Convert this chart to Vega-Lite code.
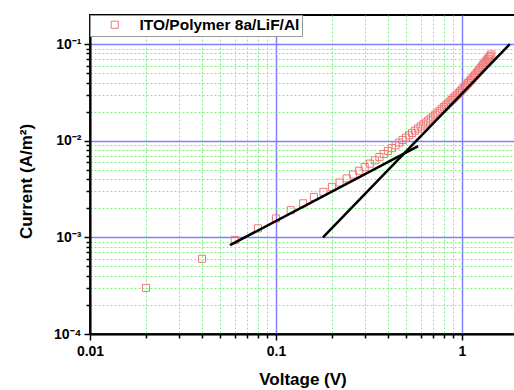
{
  "$schema": "https://vega.github.io/schema/vega-lite/v6.json",
  "width": 425,
  "height": 319,
  "autosize": {"type": "none"},
  "padding": {"left": 90, "top": 15, "right": 0, "bottom": 56},
  "background": "white",
  "config": {
    "font": "Liberation Sans",
    "view": {"stroke": "black", "strokeWidth": 2},
    "axis": {
      "domainColor": "black",
      "domainWidth": 2,
      "tickColor": "black",
      "tickWidth": 1.5,
      "labelFont": "Liberation Sans",
      "labelFontSize": 14,
      "labelFontWeight": "bold",
      "labelColor": "black",
      "labelOverlap": false,
      "labelFlush": false,
      "titleFont": "Liberation Sans",
      "titleFontSize": 17,
      "titleFontWeight": "bold",
      "titleColor": "black",
      "grid": true,
      "gridColor": {"condition": {"test": "abs(log(datum.value)/LN10 - round(log(datum.value)/LN10)) < 0.01", "value": "#8080ff"}, "value": "#80f080"},
      "gridDash": {"condition": {"test": "abs(log(datum.value)/LN10 - round(log(datum.value)/LN10)) < 0.01", "value": []}, "value": [2, 2]},
      "gridWidth": {"condition": {"test": "abs(log(datum.value)/LN10 - round(log(datum.value)/LN10)) < 0.01", "value": 1.5}, "value": 1},
      "gridOpacity": 1,
      "tickSize": {"condition": {"test": "abs(log(datum.value)/LN10 - round(log(datum.value)/LN10)) < 0.01", "value": 6}, "value": 4}
    }
  },
  "datasets": {
    "meas": [
      {"V": 0.02, "I": 0.00030, "series": "ITO/Polymer 8a/LiF/Al"},
      {"V": 0.04, "I": 0.00060, "series": "ITO/Polymer 8a/LiF/Al"},
      {"V": 0.06, "I": 0.00094, "series": "ITO/Polymer 8a/LiF/Al"},
      {"V": 0.08, "I": 0.00124, "series": "ITO/Polymer 8a/LiF/Al"},
      {"V": 0.10, "I": 0.00157, "series": "ITO/Polymer 8a/LiF/Al"},
      {"V": 0.12, "I": 0.00191, "series": "ITO/Polymer 8a/LiF/Al"},
      {"V": 0.14, "I": 0.00225, "series": "ITO/Polymer 8a/LiF/Al"},
      {"V": 0.16, "I": 0.00262, "series": "ITO/Polymer 8a/LiF/Al"},
      {"V": 0.18, "I": 0.00296, "series": "ITO/Polymer 8a/LiF/Al"},
      {"V": 0.20, "I": 0.00333, "series": "ITO/Polymer 8a/LiF/Al"},
      {"V": 0.22, "I": 0.00369, "series": "ITO/Polymer 8a/LiF/Al"},
      {"V": 0.24, "I": 0.00407, "series": "ITO/Polymer 8a/LiF/Al"},
      {"V": 0.26, "I": 0.00447, "series": "ITO/Polymer 8a/LiF/Al"},
      {"V": 0.28, "I": 0.00489, "series": "ITO/Polymer 8a/LiF/Al"},
      {"V": 0.30, "I": 0.00533, "series": "ITO/Polymer 8a/LiF/Al"},
      {"V": 0.32, "I": 0.00579, "series": "ITO/Polymer 8a/LiF/Al"},
      {"V": 0.34, "I": 0.00627, "series": "ITO/Polymer 8a/LiF/Al"},
      {"V": 0.36, "I": 0.00677, "series": "ITO/Polymer 8a/LiF/Al"},
      {"V": 0.38, "I": 0.00729, "series": "ITO/Polymer 8a/LiF/Al"},
      {"V": 0.40, "I": 0.00783, "series": "ITO/Polymer 8a/LiF/Al"},
      {"V": 0.42, "I": 0.00838, "series": "ITO/Polymer 8a/LiF/Al"},
      {"V": 0.44, "I": 0.00897, "series": "ITO/Polymer 8a/LiF/Al"},
      {"V": 0.46, "I": 0.00957, "series": "ITO/Polymer 8a/LiF/Al"},
      {"V": 0.48, "I": 0.01019, "series": "ITO/Polymer 8a/LiF/Al"},
      {"V": 0.50, "I": 0.01078, "series": "ITO/Polymer 8a/LiF/Al"},
      {"V": 0.52, "I": 0.01139, "series": "ITO/Polymer 8a/LiF/Al"},
      {"V": 0.54, "I": 0.01203, "series": "ITO/Polymer 8a/LiF/Al"},
      {"V": 0.56, "I": 0.01269, "series": "ITO/Polymer 8a/LiF/Al"},
      {"V": 0.58, "I": 0.01336, "series": "ITO/Polymer 8a/LiF/Al"},
      {"V": 0.60, "I": 0.01404, "series": "ITO/Polymer 8a/LiF/Al"},
      {"V": 0.62, "I": 0.01474, "series": "ITO/Polymer 8a/LiF/Al"},
      {"V": 0.64, "I": 0.01545, "series": "ITO/Polymer 8a/LiF/Al"},
      {"V": 0.66, "I": 0.01620, "series": "ITO/Polymer 8a/LiF/Al"},
      {"V": 0.68, "I": 0.01696, "series": "ITO/Polymer 8a/LiF/Al"},
      {"V": 0.70, "I": 0.01776, "series": "ITO/Polymer 8a/LiF/Al"},
      {"V": 0.72, "I": 0.01861, "series": "ITO/Polymer 8a/LiF/Al"},
      {"V": 0.74, "I": 0.01947, "series": "ITO/Polymer 8a/LiF/Al"},
      {"V": 0.76, "I": 0.02039, "series": "ITO/Polymer 8a/LiF/Al"},
      {"V": 0.78, "I": 0.02133, "series": "ITO/Polymer 8a/LiF/Al"},
      {"V": 0.80, "I": 0.02228, "series": "ITO/Polymer 8a/LiF/Al"},
      {"V": 0.82, "I": 0.02324, "series": "ITO/Polymer 8a/LiF/Al"},
      {"V": 0.84, "I": 0.02427, "series": "ITO/Polymer 8a/LiF/Al"},
      {"V": 0.86, "I": 0.02532, "series": "ITO/Polymer 8a/LiF/Al"},
      {"V": 0.88, "I": 0.02638, "series": "ITO/Polymer 8a/LiF/Al"},
      {"V": 0.90, "I": 0.02752, "series": "ITO/Polymer 8a/LiF/Al"},
      {"V": 0.92, "I": 0.02869, "series": "ITO/Polymer 8a/LiF/Al"},
      {"V": 0.94, "I": 0.02987, "series": "ITO/Polymer 8a/LiF/Al"},
      {"V": 0.96, "I": 0.03109, "series": "ITO/Polymer 8a/LiF/Al"},
      {"V": 0.98, "I": 0.03238, "series": "ITO/Polymer 8a/LiF/Al"},
      {"V": 1.00, "I": 0.03371, "series": "ITO/Polymer 8a/LiF/Al"},
      {"V": 1.02, "I": 0.03506, "series": "ITO/Polymer 8a/LiF/Al"},
      {"V": 1.04, "I": 0.03652, "series": "ITO/Polymer 8a/LiF/Al"},
      {"V": 1.06, "I": 0.03802, "series": "ITO/Polymer 8a/LiF/Al"},
      {"V": 1.08, "I": 0.03956, "series": "ITO/Polymer 8a/LiF/Al"},
      {"V": 1.10, "I": 0.04112, "series": "ITO/Polymer 8a/LiF/Al"},
      {"V": 1.12, "I": 0.04282, "series": "ITO/Polymer 8a/LiF/Al"},
      {"V": 1.14, "I": 0.04456, "series": "ITO/Polymer 8a/LiF/Al"},
      {"V": 1.16, "I": 0.04636, "series": "ITO/Polymer 8a/LiF/Al"},
      {"V": 1.18, "I": 0.04817, "series": "ITO/Polymer 8a/LiF/Al"},
      {"V": 1.20, "I": 0.05004, "series": "ITO/Polymer 8a/LiF/Al"},
      {"V": 1.22, "I": 0.05207, "series": "ITO/Polymer 8a/LiF/Al"},
      {"V": 1.24, "I": 0.05415, "series": "ITO/Polymer 8a/LiF/Al"},
      {"V": 1.26, "I": 0.05630, "series": "ITO/Polymer 8a/LiF/Al"},
      {"V": 1.28, "I": 0.05848, "series": "ITO/Polymer 8a/LiF/Al"},
      {"V": 1.30, "I": 0.06073, "series": "ITO/Polymer 8a/LiF/Al"},
      {"V": 1.32, "I": 0.06305, "series": "ITO/Polymer 8a/LiF/Al"},
      {"V": 1.34, "I": 0.06540, "series": "ITO/Polymer 8a/LiF/Al"},
      {"V": 1.36, "I": 0.06783, "series": "ITO/Polymer 8a/LiF/Al"},
      {"V": 1.38, "I": 0.07032, "series": "ITO/Polymer 8a/LiF/Al"},
      {"V": 1.40, "I": 0.07284, "series": "ITO/Polymer 8a/LiF/Al"},
      {"V": 1.42, "I": 0.07547, "series": "ITO/Polymer 8a/LiF/Al"},
      {"V": 1.44, "I": 0.07816, "series": "ITO/Polymer 8a/LiF/Al"}
    ],
    "fit": [
      {"line": "a", "V": 0.0566, "I": 0.00083},
      {"line": "a", "V": 0.582, "I": 0.0088},
      {"line": "b", "V": 0.179, "I": 0.001},
      {"line": "b", "V": 1.81, "I": 0.1}
    ]
  },
  "layer": [
    {
      "data": {"name": "meas"},
      "mark": {"type": "point", "shape": "square", "filled": false, "size": 50, "strokeWidth": 1, "opacity": 1},
      "encoding": {
        "x": {
          "field": "V", "type": "quantitative",
          "scale": {"type": "log", "domain": [0.01, 1.93], "nice": false, "zero": false},
          "axis": {
            "title": "Voltage (V)",
            "titlePadding": 13,
            "labelPadding": 4,
            "values": [0.01, 0.02, 0.03, 0.04, 0.05, 0.06, 0.07, 0.08, 0.09, 0.1, 0.2, 0.3, 0.4, 0.5, 0.6, 0.7, 0.8, 0.9, 1],
            "labelExpr": "abs(log(datum.value)/LN10 - round(log(datum.value)/LN10)) < 0.01 ? (datum.value > 0.5 ? '1' : (datum.value < 0.05 ? '0.01' : '0.1')) : ''"
          }
        },
        "y": {
          "field": "I", "type": "quantitative",
          "scale": {"type": "log", "domain": [0.0001, 0.2], "nice": false, "zero": false},
          "axis": {
            "title": "Current (A/m²)",
            "titlePadding": 18,
            "titleY": 166,
            "labelPadding": 3,
            "values": [0.0001, 0.0002, 0.0003, 0.0004, 0.0005, 0.0006, 0.0007, 0.0008, 0.0009, 0.001, 0.002, 0.003, 0.004, 0.005, 0.006, 0.007, 0.008, 0.009, 0.01, 0.02, 0.03, 0.04, 0.05, 0.06, 0.07, 0.08, 0.09, 0.1],
            "labelExpr": "abs(log(datum.value)/LN10 - round(log(datum.value)/LN10)) < 0.01 ? '10' + ['⁰','⁻¹','⁻²','⁻³','⁻⁴'][-round(log(datum.value)/LN10)] : ''"
          }
        },
        "color": {
          "field": "series", "type": "nominal",
          "scale": {"range": ["#f07878"]},
          "legend": {
            "title": null,
            "orient": "none",
            "legendX": 0,
            "legendY": 0,
            "padding": 2,
            "fillColor": "white",
            "strokeColor": "#999999",
            "symbolType": "square",
            "symbolSize": 50,
            "symbolStrokeWidth": 1,
            "symbolFillColor": "transparent",
            "symbolOffset": 15,
            "labelOffset": 17,
            "labelFont": "Liberation Sans",
            "labelFontSize": 15.5,
            "labelFontWeight": "bold",
            "labelColor": "black",
            "labelLimit": 400
          }
        }
      }
    },
    {
      "data": {"name": "fit"},
      "mark": {"type": "line", "color": "black", "strokeWidth": 2.5},
      "encoding": {
        "x": {"field": "V", "type": "quantitative"},
        "y": {"field": "I", "type": "quantitative"},
        "detail": {"field": "line", "type": "nominal"}
      }
    }
  ]
}
